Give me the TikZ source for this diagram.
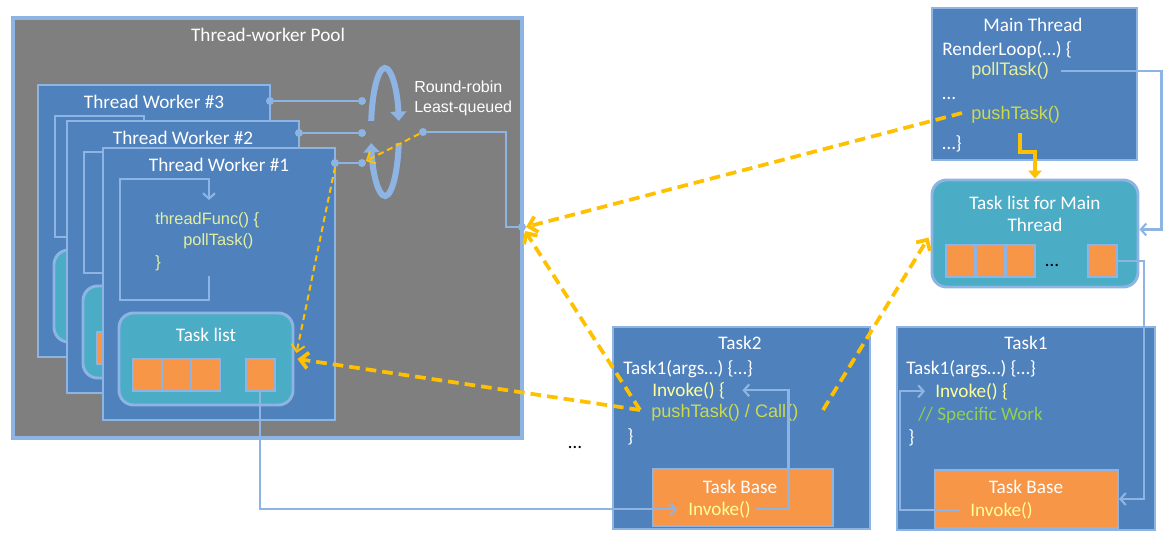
\documentclass[tikz,border=0pt]{standalone}
\usepackage{fontspec}
\setmainfont{Carlito}
\newfontfamily\codefont{Liberation Sans}
\usetikzlibrary{arrows.meta,positioning,calc}
\definecolor{poolgray}{HTML}{7F7F7F}
\definecolor{edgeblue}{HTML}{8EB4E3}
\definecolor{boxblue}{HTML}{4F81BD}
\definecolor{listteal}{HTML}{4BACC6}
\definecolor{taskorange}{HTML}{F79646}
\definecolor{flowyellow}{HTML}{FFC000}
\definecolor{callyellow}{HTML}{FFFF99}
\definecolor{polllime}{HTML}{E4F09C}
\definecolor{pushlime}{HTML}{CCDA4C}
\definecolor{workgreen}{HTML}{92D050}
\tikzset{
  wh/.style 2 args={minimum width=#1*0.75pt, minimum height=#2*0.75pt},
  poolbox/.style={rectangle, draw=edgeblue, fill=poolgray, line width=3pt,
    inner sep=0pt},
  workerbox/.style={rectangle, draw=edgeblue, fill=boxblue, line width=2.2pt,
    inner sep=0pt},
  listbox/.style={rectangle, rounded corners=11pt, draw=edgeblue,
    fill=listteal, line width=2.2pt, inner sep=0pt},
  slot/.style={rectangle, draw=edgeblue, fill=taskorange, line width=1.5pt,
    wh={29}{32}, inner sep=0pt},
  basebox/.style={rectangle, draw=edgeblue, fill=taskorange, line width=1.5pt,
    inner sep=0pt},
  boxtitle/.style={font=\fontsize{14.4}{16.5}\selectfont, text=white,
    inner sep=0pt, align=center},
  codeline/.style={font=\fontsize{14.4}{17}\selectfont, text=#1,
    inner sep=0pt, anchor=base west},
  codeline/.default=white,
  armcode/.style={font=\codefont\fontsize{13.6}{16}\selectfont, text=#1,
    inner sep=0pt, anchor=base west},
  armcode/.default=white,
  smallcode/.style={font=\codefont\fontsize{12.3}{14}\selectfont,
    text=polllime, inner sep=0pt, anchor=base west},
  dot/.style={circle, fill=edgeblue, inner sep=0pt, minimum size=6pt},
  link/.style={draw=edgeblue, line width=2pt},
  flow/.style={draw=edgeblue, line width=1.6pt,
    -{Straight Barb[length=4pt,width=9pt]}},
  rrarc/.style={draw=edgeblue, line width=4.5pt,
    -{Triangle[length=7pt,width=12pt]}},
  pickarrow/.style={draw=flowyellow, line width=1.5pt,
    dash pattern=on 4.5pt off 3pt, -{Straight Barb[length=5pt,width=10pt]}},
  handoff/.style={draw=flowyellow, line width=2.8pt,
    dash pattern=on 8pt off 4.5pt, -{Straight Barb[length=6pt,width=12pt]}},
  pushflow/.style={draw=flowyellow, line width=2.5pt,
    -{Triangle[length=6pt,width=10pt]}},
}
\begin{document}
\begin{tikzpicture}[x=0.75pt, y=-0.75pt]
  \useasboundingbox (0,0) rectangle (1172,542);

  % worker pool
  \node[poolbox, wh={509}{420}] (pool) at (267.5,228) {};
  \node[boxtitle] (pooltitle) at (268,35) {Thread-worker Pool};

  % stacked thread workers, back to front
  \foreach \i/\dx/\dy/\cy in {3/38/85/16, 2/67/121/12, 1/103/148/15} {
    \begin{scope}[shift={(\dx,\dy)}]
      \node[workerbox, wh={232}{272}] (tw\i) at (116,136) {};
      \node[boxtitle] (tw\i-title) at (116,17) {Thread Worker \#\i};
      \draw[flow] (106,128) -- (106,152) -- (17,152) -- (17,31)
        -- (106,31) -- (106,52);
      \node[listbox, wh={174}{92}] (tl\i) at (103,211) {};
      \foreach \sx [count=\k] in {44,73,102,157}
        \node[slot] (s\i-\k) at (\sx,227) {};
      \node[dot] (d\i) at (232,\cy) {};
    \end{scope}
  }
  \node[boxtitle] (tl1-title) at (206,335) {Task list};
  \node[smallcode] (tf) at (155,224) {threadFunc() \{};
  \node[smallcode] (tfpoll) at (183,245) {pollTask()};
  \node[smallcode] (tfend) at (155,267) {\}};

  % round-robin dispatch
  \foreach \i/\y in {3/101, 2/133, 1/163} {
    \node[dot] (rr\i) at (362,\y) {};
    \draw[link] (d\i) -- (rr\i);
  }
  \coordinate (rrc) at (385,132);
  \draw[rrarc] (rrc) ++(190:14 and 64)
    arc[start angle=190, end angle=350, x radius=14, y radius=64];
  \draw[rrarc] (rrc) ++(10:14 and 64)
    arc[start angle=10, end angle=170, x radius=14, y radius=64];
  \node[font=\codefont\fontsize{12}{15}\selectfont, text=white, align=left,
    anchor=west, inner sep=0pt] (rrlabel) at (414,98)
    {Round-robin\\Least-queued};
  \node[dot] (rrout) at (423,132) {};
  \coordinate (poolin) at (522,227);
  \draw[link] (rrout) -- ++(83,0) |- (poolin);
  \node[dot] (poolindot) at (poolin) {};
  \draw[pickarrow] (rrout) -- (rr1);
  \draw[pickarrow] (d1.south) -- ($(tl1.east)+(2,-6)$);

  % main thread
  \node[workerbox, wh={205}{152}] (main) at (1034.5,84) {};
  \node[boxtitle] (maintitle) at (1033,25) {Main Thread};
  \node[codeline] (mloop) at (942,56) {RenderLoop(\dots) \{};
  \node[armcode=polllime] (mpoll) at (971,76) {pollTask()};
  \node[codeline] (mdots) at (942,100) {\dots};
  \node[armcode=pushlime] (mpush) at (971,119) {pushTask()};
  \node[codeline] (mend) at (942,150) {\dots\}};
  \coordinate (mpushout) at (962,113);
  \coordinate (mdrop) at (1020,133);

  % task list of the main thread
  \node[listbox, wh={206}{107}] (mtl) at (1035,233.5) {};
  \node[boxtitle] (mtltitle) at (1035,214) {Task list for Main\\Thread};
  \foreach \sx [count=\k] in {960,990,1020,1102}
    \node[slot] (m\k) at (\sx,261) {};
  \node[codeline=black] (mtldots) at (1045,266) {\dots};
  \draw[pushflow] (mdrop) -- ++(0,19) -| (mtl.north);
  \draw[flow] ($(mpoll.east)+(12,0)$) -| ($(mtl.east)+(22,-4)$)
    -- ($(mtl.east)+(0,-4)$);

  % task 2
  \node[workerbox, wh={257}{202}] (task2) at (741.5,428) {};
  \node[boxtitle] (task2title) at (740,343) {Task2};
  \node[codeline] (ctor2) at (623,374) {Task1(args\dots) \{\dots\}};
  \node[codeline=callyellow] (iv2) at (652,396) {Invoke() \{};
  \node[armcode=pushlime] (push2) at (651,417) {pushTask() / Call()};
  \node[codeline] (end2) at (627,442) {\}};
  \node[basebox, wh={180}{57}] (tb2) at (743,497.5) {};
  \node[boxtitle] (tb2title) at (740,487) {Task Base};
  \node[codeline=callyellow] (ib2) at (688,515) {Invoke()};
  \draw[flow] ($(ib2.east)+(4,0)$) -| ($(iv2.east)+(63,0)$)
    -- ($(iv2.east)+(17,0)$);
  \node[codeline=black] (moretasks) at (568,448) {\dots};

  % task 1
  \node[workerbox, wh={258}{203}] (task1) at (1026,428.5) {};
  \node[boxtitle] (task1title) at (1026,343) {Task1};
  \node[codeline] (ctor1) at (906,374) {Task1(args\dots) \{\dots\}};
  \node[codeline=callyellow] (iv1) at (935,397) {Invoke() \{};
  \node[codeline=workgreen] (work1) at (918,420) {// Specific Work};
  \node[codeline] (end1) at (908,443) {\}};
  \node[basebox, wh={183}{58}] (tb1) at (1026.5,499) {};
  \node[boxtitle] (tb1title) at (1026,487) {Task Base};
  \node[codeline=callyellow] (ib1) at (970,516) {Invoke()};
  \draw[flow] ($(ib1.west)+(-10,0)$) -| ($(iv1.west)+(-35,0)$)
    -- ($(iv1.west)+(-10,0)$);
  \draw[flow] (m4.east) -| ($(tb1.east)+(25,0)$) -- (tb1.east);

  % worker task list feeds the task base
  \draw[flow] (s1-4.south) |- ($(ib2.west)+(-11,0)$);

  % pushes between threads
  \coordinate (push2out) at (640,410);
  \coordinate (call2out) at (823,410);
  \draw[handoff] (push2out) -- ($(tl1.east)+(3,0)$);
  \draw[handoff] (push2out) -- ($(poolin)+(3,4)$);
  \draw[handoff] (mpushout) -- ($(poolin)+(4,0)$);
  \draw[handoff] (call2out) -- ($(mtl.west)+(-2,4)$);
\end{tikzpicture}
\end{document}
